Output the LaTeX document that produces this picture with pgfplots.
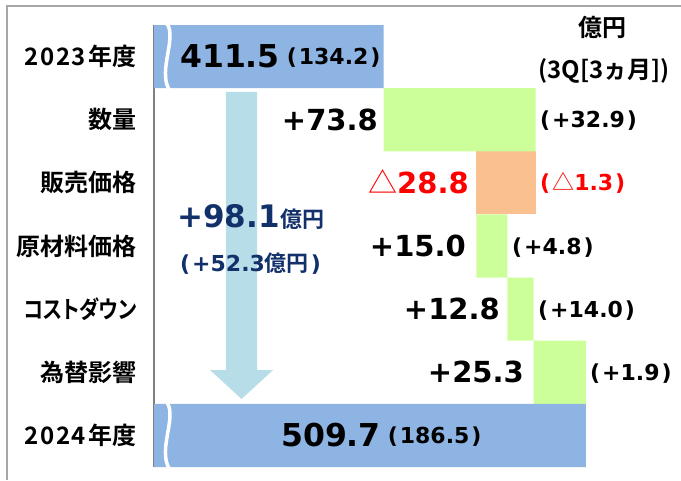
\documentclass[border=0pt]{standalone}
\usepackage{fontspec}
\setmainfont{DejaVu Sans}
\newfontfamily\cjk{Noto Sans CJK JP}[BoldFont={* Bold}, RawFeature=+palt]
\newfontfamily\cjkf{Noto Sans CJK JP}[BoldFont={* Bold}]
\usepackage{pgfplots}
\pgfplotsset{compat=1.18}

\definecolor{barblue}{HTML}{8EB4E3}
\definecolor{bargreen}{HTML}{CCFF99}
\definecolor{barorange}{HTML}{FAC090}
\definecolor{arrowblue}{HTML}{B7DEE8}
\definecolor{navy}{HTML}{12306A}
\definecolor{framegray}{HTML}{A6A6A6}

\tikzset{
  bignum/.style={inner sep=0pt, anchor=base west, yshift=-11.3pt, font=\bfseries},
  chg/.style={inner sep=0pt, text height=21.1pt, text depth=0pt, font=\fontsize{29}{29}\selectfont\bfseries},
  par/.style={inner sep=0pt, text height=16pt, text depth=0pt, font=\fontsize{22}{22}\selectfont\bfseries},
}
\newcommand\tri{{\cjk\mdseries △}}
\newcommand\pp[1]{(\kern2pt#1\kern2pt)}
\newcommand\tot[2]{{\fontsize{31.5}{31.5}\selectfont #1}\hspace{7pt}\raisebox{3.3pt}{\fontsize{22}{22}\selectfont \pp{#2}}}
\newcommand\yr[1]{{\addfontfeature{LetterSpace=6}#1}\kern3pt}

\begin{document}
\begin{tikzpicture}
\begin{axis}[
  at={(154pt,13pt)}, anchor=south west,
  scale only axis, width=526pt, height=442pt,
  xmin=300, xmax=555.34, ymin=-0.5, ymax=6.5,
  y dir=reverse,
  xbar stacked, bar width=63.143pt,
  axis x line=none, xtick=\empty,
  axis y line=left,
  axis line style={-},
  y axis line style={draw=gray, line width=1.3pt, -},
  ytick={0,1,2,3,4,5,6},
  yticklabels={\yr{2023}年度,数量,販売価格,原材料価格,\scalebox{0.84}[1]{コストダウン},為替影響,\yr{2024}年度},
  major tick length=0pt,
  yticklabel style={font={\cjk\bfseries\fontsize{24}{24}\selectfont}, inner sep=0pt, anchor=east, xshift=-17pt},
  clip mode=individual,
]
% invisible offsets
\addplot[draw=none, fill=none] coordinates {(0,0) (411.5,1) (456.5,2) (456.5,3) (471.5,4) (484.3,5) (0,6)};
% totals
\addplot[draw=none, fill=barblue] coordinates {(411.5,0) (0,1) (0,2) (0,3) (0,4) (0,5) (509.7,6)};
% increases
\addplot[draw=none, fill=bargreen] coordinates {(0,0) (73.8,1) (0,2) (15.0,3) (12.8,4) (25.3,5) (0,6)};
% decrease
\addplot[draw=none, fill=barorange] coordinates {(0,0) (0,1) (28.8,2) (0,3) (0,4) (0,5) (0,6)};

% anchor points for annotations
\coordinate (w1a) at (axis cs:306.31,-0.52);
\coordinate (w1b) at (axis cs:311.17,-0.294);
\coordinate (w1c) at (axis cs:301.94,0.2127);
\coordinate (w1d) at (axis cs:307.28,0.52);
\coordinate (w2a) at (axis cs:306.31,5.48);
\coordinate (w2b) at (axis cs:311.17,5.706);
\coordinate (w2c) at (axis cs:301.94,6.2127);
\coordinate (w2d) at (axis cs:307.28,6.52);
\coordinate (a1) at (axis cs:334.95,0.561);
\coordinate (a2) at (axis cs:350.0,0.561);
\coordinate (a3) at (axis cs:350.0,4.964);
\coordinate (a4) at (axis cs:357.8,4.964);
\coordinate (a5) at (axis cs:342.5,5.423);
\coordinate (a6) at (axis cs:327.2,4.964);
\coordinate (a7) at (axis cs:334.95,4.964);
\coordinate (T0) at (axis cs:312.62,0);
\coordinate (T6) at (axis cs:361.65,6);
\coordinate (C1) at (axis cs:408.74,1);
\coordinate (C2) at (axis cs:452.91,2);
\coordinate (C3) at (axis cs:451.46,3);
\coordinate (C4) at (axis cs:467.96,4);
\coordinate (C5) at (axis cs:479.61,5);
\coordinate (Q1) at (axis cs:487.38,1);
\coordinate (Q2) at (axis cs:487.38,2);
\coordinate (Q3) at (axis cs:473.79,3);
\coordinate (Q4) at (axis cs:486.41,4);
\coordinate (Q5) at (axis cs:511.65,5);
\coordinate (N1) at (axis cs:311.17,2.54);
\coordinate (N2) at (axis cs:312.62,3.285);
\coordinate (U1) at (axis cs:517.48,-0.468);
\coordinate (U2) at (axis cs:518.4,0.2285);
\end{axis}

% axis-break waves
\draw[white, line width=3.5pt] (w1a) .. controls (w1b) and (w1c) .. (w1d);
\draw[white, line width=3.5pt] (w2a) .. controls (w2b) and (w2c) .. (w2d);
% big arrow
\fill[arrowblue] (a1) -- (a2) -- (a3) -- (a4) -- (a5) -- (a6) -- (a7) -- cycle;

% totals labels
\node[bignum] at (T0) {\tot{411.5}{134.2}};
\node[bignum] at (T6) {\tot{509.7}{186.5}};

% change labels
\node[chg, anchor=east] at (C1) {+73.8};
\node[chg, anchor=east, red] at (C2) {\tri28.8};
\node[chg, anchor=east] at (C3) {+15.0};
\node[chg, anchor=east] at (C4) {+12.8};
\node[chg, anchor=east] at (C5) {+25.3};

% 3Q labels
\node[par, anchor=west] at (Q1) {\pp{+32.9}};
\node[par, anchor=west, red] at (Q2) {\pp{\tri1.3}};
\node[par, anchor=west] at (Q3) {\pp{+4.8}};
\node[par, anchor=west] at (Q4) {\pp{+14.0}};
\node[par, anchor=west] at (Q5) {\pp{+1.9}};

% total change
\node[inner sep=0pt, anchor=base west, navy, font=\bfseries] at ([yshift=-11pt]N1)
  {{\fontsize{31}{31}\selectfont +98.1}\kern1pt{\cjk\fontsize{22}{22}\selectfont 億円}};
\node[inner sep=0pt, anchor=base west, navy, font=\bfseries] at ([yshift=-8pt]N2)
  {\fontsize{22}{22}\selectfont\pp{+52.3{\cjk 億円}}};

% unit
\node[inner sep=0pt, font={\cjk\bfseries\fontsize{24}{24}\selectfont}] at (U1) {億円};
\node[inner sep=0pt, font={\cjkf\bfseries\fontsize{24}{24}\selectfont}] at (U2) {(3Q[3ヵ月])};

\draw[framegray, line width=1.5pt] (7pt,0pt) -- (7pt,474pt) -- (681pt,474pt);
\pgfresetboundingbox
\useasboundingbox (0pt,0pt) rectangle (681pt,480pt);
\end{tikzpicture}
\end{document}
